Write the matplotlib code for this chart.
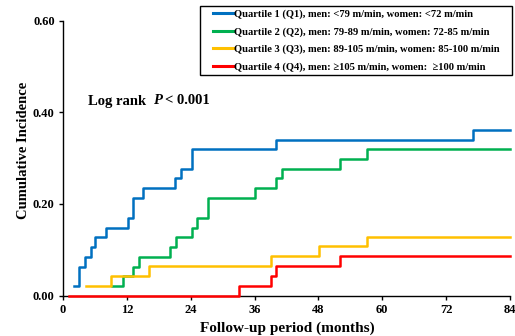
import matplotlib
matplotlib.use("Agg")
import matplotlib.pyplot as plt
from matplotlib.patches import Rectangle

# Data (months, cumulative incidence)
q1_t = [2.1, 3.1, 4.1, 5.2, 6.1, 8.1, 12.2, 13.2, 15.1, 21.1, 22.2, 24.2, 40.0, 77.0, 84]
q1_y = [0.021, 0.063, 0.085, 0.106, 0.128, 0.148, 0.170, 0.212, 0.234, 0.256, 0.276, 0.319, 0.340, 0.362, 0.362]
q2_t = [9.3, 11.2, 13.2, 14.2, 20.2, 21.2, 24.2, 25.2, 27.2, 36.1, 40.1, 41.1, 52.1, 57.1, 84]
q2_y = [0.021, 0.043, 0.063, 0.085, 0.106, 0.128, 0.148, 0.170, 0.212, 0.234, 0.256, 0.276, 0.297, 0.319, 0.319]
q3_t = [4.3, 9.1, 16.2, 39.1, 48.1, 57.1, 84]
q3_y = [0.021, 0.043, 0.064, 0.086, 0.107, 0.128, 0.128]
q4_t = [1.2, 33.1, 39.1, 40.1, 52.1, 84]
q4_y = [0.0, 0.021, 0.042, 0.064, 0.086, 0.086]

labels = [
    "Quartile 1 (Q1), men: <79 m/min, women: <72 m/min",
    "Quartile 2 (Q2), men: 79-89 m/min, women: 72-85 m/min",
    "Quartile 3 (Q3), men: 89-105 m/min, women: 85-100 m/min",
    "Quartile 4 (Q4), men: \u2265105 m/min, women:  \u2265100 m/min",
]
colors = ["#0070C0", "#00B050", "#FFC000", "#FF0000"]
x_ticks = [0, 12, 24, 36, 48, 60, 72, 84]
y_ticks = [0.0, 0.2, 0.4, 0.6]

plt.rcParams['font.family'] = ['Liberation Serif', 'DejaVu Serif']
plt.rcParams['font.weight'] = 'bold'

W, H = 515, 336
fig = plt.figure(figsize=(W/100, H/100), dpi=100)
ax = fig.add_axes([63/W, 1-295.5/H, (510-63)/W, (295.5-20.7)/H])

for t, y, c, lab in zip([q1_t, q2_t, q3_t, q4_t], [q1_y, q2_y, q3_y, q4_y], colors, labels):
    ax.step(t, y, where='post', color=c, lw=1.8, label=lab, clip_on=False, zorder=3)

ax.set_xlim(0, 84)
ax.set_ylim(0, 0.6)
ax.set_xticks(x_ticks)
ax.set_yticks(y_ticks)
ax.set_yticklabels([f"{v:.2f}" for v in y_ticks], fontsize=9, fontweight='bold')
ax.set_xticklabels([str(v) for v in x_ticks], fontsize=9, fontweight='bold')
ax.spines['top'].set_visible(False)
ax.spines['right'].set_visible(False)
ax.spines['left'].set_linewidth(1.0)
ax.spines['bottom'].set_linewidth(1.0)
ax.tick_params(direction='out', length=3, width=1, pad=3)

fig.text(287/W, 1-328/H, "Follow-up period (months)", fontsize=11, fontweight='bold',
         ha='center', va='center')
fig.text(24/W, 1-150/H, "Cumulative Incidence", fontsize=10.5, fontweight='bold',
         ha='center', va='center', rotation=90)

# Log rank annotation with italic P
fig.canvas.draw()
r = fig.canvas.get_renderer()
x0 = 88
yc = 1-101/H
t1 = fig.text(x0/W, yc, "Log rank  ", fontsize=10.5, fontweight='bold', va='center')
w1 = t1.get_window_extent(r).width
t2 = fig.text((x0+w1)/W, yc, "P", fontsize=10.5, fontweight='bold', style='italic', va='center')
w2 = t2.get_window_extent(r).width
fig.text((x0+w1+w2+3)/W, yc, "< 0.001", fontsize=10.5, fontweight='bold', va='center')

# Legend box (drawn as a rectangle) and entries
fig.patches.append(Rectangle((200/W, 1-74.5/H), 312/W, 69/H, transform=fig.transFigure,
                             fill=True, facecolor='white', edgecolor='black', lw=1.0, zorder=4))
leg = fig.legend(*ax.get_legend_handles_labels(), loc='upper left',
                 bbox_to_anchor=(213/W, 1-9.5/H), prop={'weight': 'bold', 'size': 7.6},
                 frameon=False, handlelength=1.9, handletextpad=0.1,
                 borderpad=0.0, labelspacing=0.75, borderaxespad=0)
leg.set_zorder(5)
for h in leg.get_lines():
    h.set_linewidth(2.2)

fig.savefig("out.png", dpi=100)
